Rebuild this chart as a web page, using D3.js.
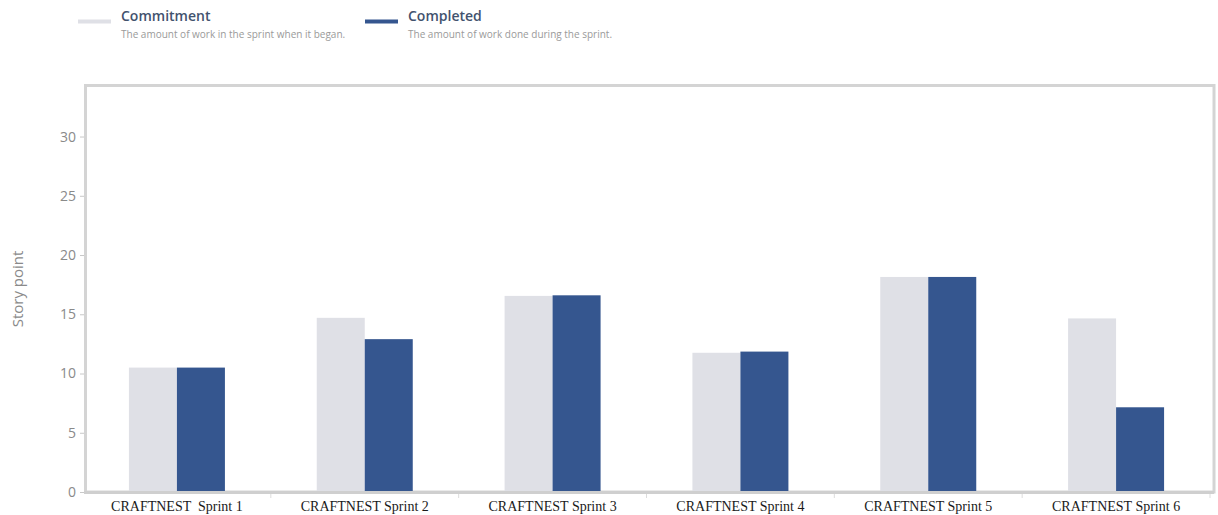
<!DOCTYPE html>
<html>
<head>
<meta charset="utf-8">
<script src="https://cdn.jsdelivr.net/npm/d3@7"></script>
<style>
  body { margin: 0; background: #fff; }
  svg { display: block; }
</style>
</head>
<body>
<div id="chart"></div>
<script>
// data
var sprints = ["CRAFTNEST  Sprint 1", "CRAFTNEST Sprint 2", "CRAFTNEST Sprint 3",
               "CRAFTNEST Sprint 4", "CRAFTNEST Sprint 5", "CRAFTNEST Sprint 6"];
var commitment = [10.5, 14.7, 16.55, 11.75, 18.15, 14.65];
var completed = [10.5, 12.9, 16.6, 11.85, 18.15, 7.15];
var yTicks = [0, 5, 10, 15, 20, 25, 30];
var seriesNames = ["Commitment", "Completed"];
var seriesNotes = ["The amount of work in the sprint when it began.",
                   "The amount of work done during the sprint."];
var colors = ["#dfe0e6", "#35568f"];

var svgWidth = 1218;
var svgHeight = 515;

var svg = d3.select("#chart")
  .append("svg")
    .attr("width", svgWidth)
    .attr("height", svgHeight);

// scales
var x = d3.scaleBand().domain(sprints).range([83, 1210]);
var y = d3.scaleLinear().domain([0, 34.35]).range([492, 85]);
var barW = 48;

// frame
svg.append("rect")
  .attr("x", 85.5).attr("y", 85.5)
  .attr("width", 1214 - 85.5).attr("height", 492 - 85.5)
  .attr("fill", "none")
  .attr("stroke", "#d4d4d4")
  .attr("stroke-width", 3);

// bars
var groups = svg.selectAll("g.sprint")
  .data(sprints)
  .enter().append("g")
    .attr("class", "sprint")
    .attr("transform", function(d) { return "translate(" + (x(d) + x.bandwidth() / 2) + ",0)"; });

groups.append("rect")
  .attr("x", -barW)
  .attr("y", function(d, i) { return y(commitment[i]); })
  .attr("width", barW)
  .attr("height", function(d, i) { return y(0) - y(commitment[i]); })
  .attr("fill", colors[0]);

groups.append("rect")
  .attr("x", 0)
  .attr("y", function(d, i) { return y(completed[i]); })
  .attr("width", barW)
  .attr("height", function(d, i) { return y(0) - y(completed[i]); })
  .attr("fill", colors[1]);

// x axis
var xAxis = svg.append("g")
  .attr("transform", "translate(0,492)")
  .call(d3.axisBottom(x).tickSize(0).tickPadding(9));
xAxis.select(".domain").remove();
svg.append("line")
  .attr("x1", 84).attr("x2", 1214)
  .attr("y1", 492.5).attr("y2", 492.5)
  .attr("stroke", "#cfcfcf").attr("stroke-width", 3);
xAxis.selectAll("text")
  .style("font-family", "'Liberation Serif', 'Times New Roman', serif")
  .style("font-size", "14px")
  .style("white-space", "pre")
  .attr("fill", "#1a1a1a");

// small separators between categories
svg.selectAll("line.sep")
  .data(sprints)
  .enter().append("line")
    .attr("class", "sep")
    .attr("x1", function(d) { return x(d) + x.step(); })
    .attr("x2", function(d) { return x(d) + x.step(); })
    .attr("y1", 494).attr("y2", 498)
    .attr("stroke", "#dcdcdc");

// y axis
var yAxis = svg.append("g")
  .attr("transform", "translate(84,0)")
  .call(d3.axisLeft(y).tickValues(yTicks).tickSize(4).tickPadding(4));
yAxis.select(".domain").remove();
yAxis.selectAll("line").attr("stroke", "#c8c8c8");
yAxis.selectAll("text")
  .style("font-family", "'Open Sans', 'Noto Sans', sans-serif")
  .style("font-size", "14px")
  .attr("fill", "#8a8a8a");

svg.append("text")
  .attr("transform", "translate(23,289) rotate(-90)")
  .attr("text-anchor", "middle")
  .style("font-family", "'Open Sans', 'Noto Sans', sans-serif")
  .style("font-size", "15px")
  .attr("fill", "#8a8a8a")
  .text("Story point");

// legend
var legendX = [78, 365];
var legend = svg.selectAll("g.legend")
  .data(seriesNames)
  .enter().append("g")
    .attr("class", "legend")
    .attr("transform", function(d, i) { return "translate(" + legendX[i] + ",0)"; });

legend.append("line")
  .attr("x1", 0).attr("x2", 33)
  .attr("y1", 21.5).attr("y2", 21.5)
  .attr("stroke", function(d, i) { return colors[i]; })
  .attr("stroke-width", 4);

legend.append("text")
  .attr("x", 43).attr("y", 21)
  .style("font-family", "'Open Sans', 'Noto Sans', sans-serif")
  .style("font-size", "14px")
  .style("font-weight", "600")
  .attr("fill", "#42526e")
  .text(function(d) { return d; });

legend.append("text")
  .attr("x", 43).attr("y", 38)
  .style("font-family", "'Open Sans', 'Noto Sans', sans-serif")
  .style("font-size", "10px")
  .attr("fill", "#9a9a9a")
  .text(function(d, i) { return seriesNotes[i]; });
</script>
</body>
</html>
